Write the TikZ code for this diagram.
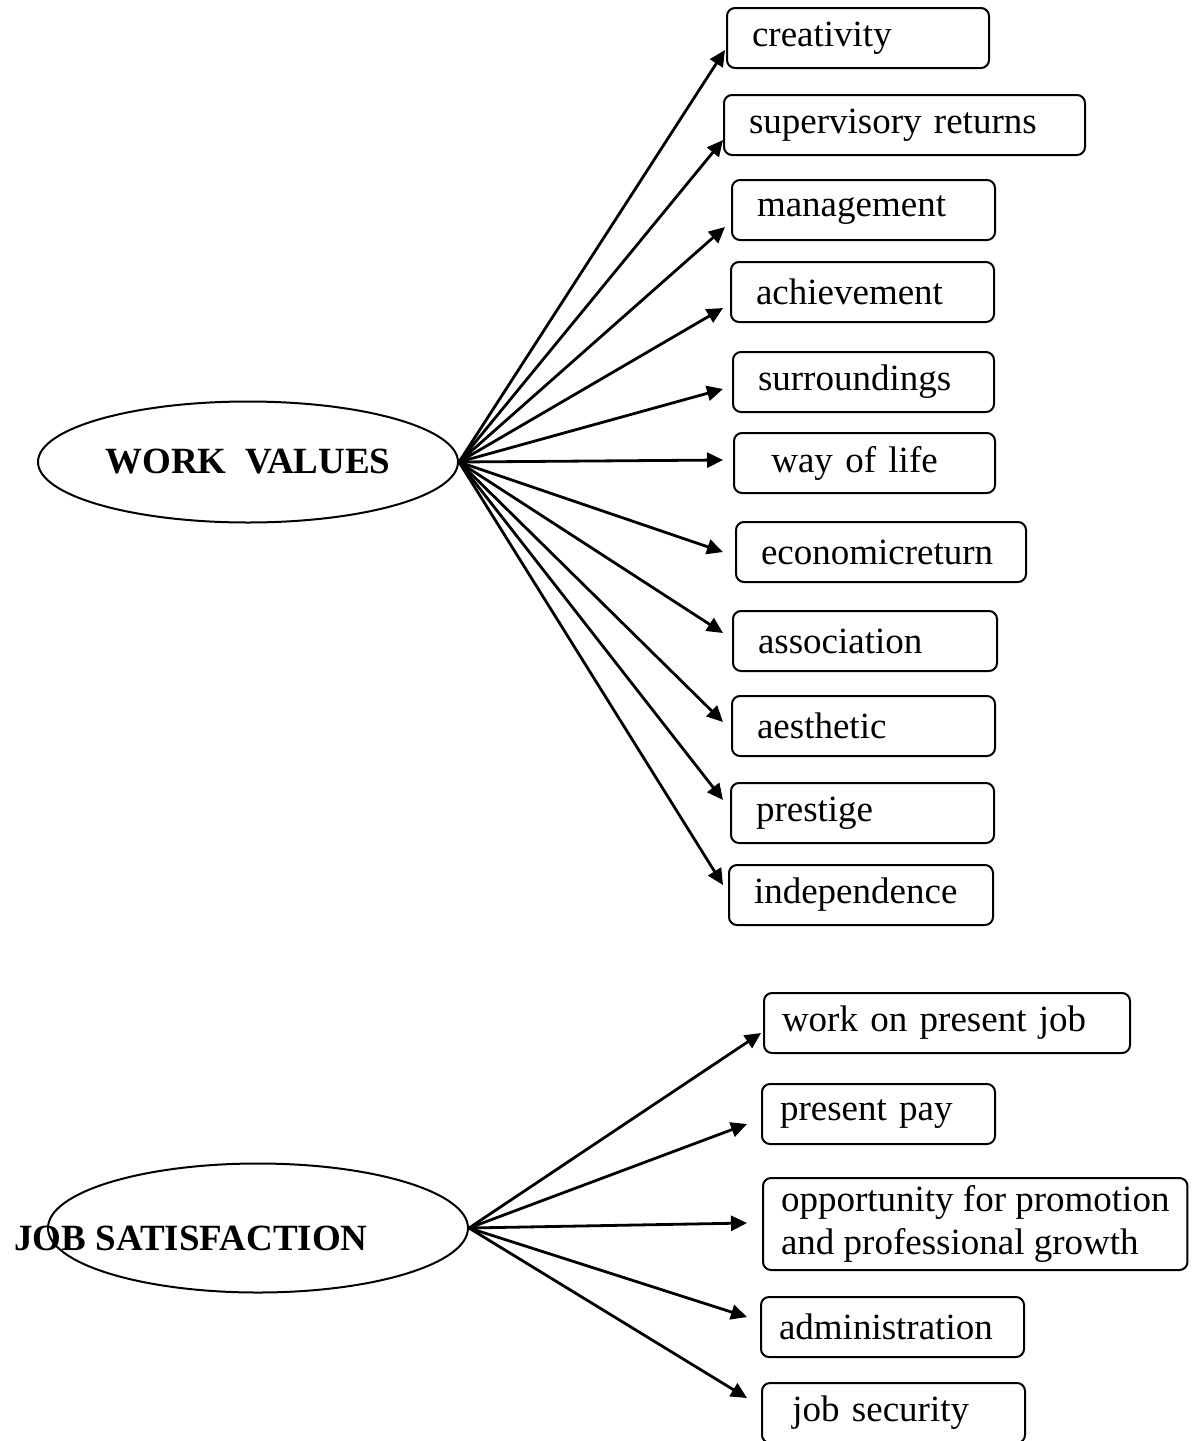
\documentclass[tikz,border=0pt]{standalone}
\usepackage{fontspec}
\setmainfont{Liberation Serif}
\usepackage{tikz}
\usetikzlibrary{calc}
\usetikzlibrary{arrows.meta}
\usetikzlibrary{shapes.geometric}
\tikzset{
	value/.style={
		draw, line width=1pt, rounded corners=4pt, anchor=west,
		minimum height=30pt, inner xsep=12.5pt, inner ysep=2pt,
		align=left, text width=#1
	},
	factor/.style={
		value=#1, inner xsep=9pt
	},
	construct/.style={
		draw, ellipse, line width=1pt, inner sep=0pt,
		minimum width=210pt, font=\fontsize{18.5}{21.5}\selectfont\bfseries
	},
	link/.style={
		-{Triangle[length=8pt,width=7.5pt]}, line width=1.4pt
	}
}

\begin{document}
\begin{tikzpicture}[x=0.5pt, y=-0.5pt, every node/.style={font=\fontsize{18.5}{21.5}\selectfont}]
    \useasboundingbox (0,0) rectangle (1192,1441);

    \node[construct, minimum height=60.5pt] (workvalues) at (248,462) {WORK\ \ VALUES};

    \node[value=106pt]   (creativity)     at (726,38)  {creativity};
    \node[value=155.5pt] (supervisory)    at (723,125) {supervisory returns};
    \node[value=106.5pt] (management)     at (731,210) {management};
    \node[value=106.5pt] (achievement)    at (730,292) {achievement};
    \node[value=105.5pt] (surroundings)   at (732,382) {surroundings};
    \node[value=105.5pt] (wayoflife)      at (733,463) {\ way of life};
    \node[value=120pt]   (economic)       at (735,552) {economicreturn};
    \node[value=107pt]   (association)    at (732,641) {association};
    \node[value=106.5pt] (aesthetic)      at (731,726) {aesthetic};
    \node[value=106.5pt] (prestige)       at (730,813) {prestige};
    \node[value=107pt]   (independence)   at (728,895) {independence};

    \foreach \n/\dx/\dy in {creativity/-1/12, supervisory/0/15, management/-6/17,
        achievement/-7/16, surroundings/-9/7, wayoflife/-10/-3, economic/-12/0,
        association/-9/-8, aesthetic/-8/-4, prestige/-7/-13, independence/-5/-10}
        \draw[link] (workvalues.east) -- ($(\n.west)+(\dx,\dy)$);

    \node[construct, minimum height=64.5pt] (jobsat) at (258,1228) {};
    \node[font=\fontsize{18.5}{21.5}\selectfont\bfseries] (jobsat-title) at (191,1238) {JOB SATISFACTION};

    \node[factor=165pt]   (presentjob)     at (763,1023) {work on present job};
    \node[factor=98.5pt]  (pay)            at (761,1114) {present pay};
    \node[factor=196pt, text width={}, minimum height=46pt] (promotion) at (762,1224)
        {opportunity for promotion\\and professional growth};
    \node[factor=113.5pt] (administration) at (760,1327) {administration};
    \node[factor=113.5pt] (security)       at (761,1413) {\ job security};

    \foreach \n/\dx/\dy in {presentjob/-2/10, pay/-14/10, promotion/-15/-1,
        administration/-13/-10, security/-14/-15}
        \draw[link] (jobsat.east) -- ($(\n.west)+(\dx,\dy)$);
\end{tikzpicture}
\end{document}
